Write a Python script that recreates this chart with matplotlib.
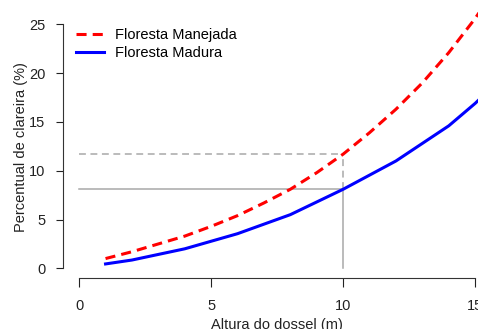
import numpy as np
import matplotlib.pyplot as plt

plt.rcParams['font.family'] = ['Liberation Sans', 'DejaVu Sans']

# Curves
x_manejada = [1, 2, 3, 4, 5, 6, 7, 8, 9, 10, 11, 12, 13, 14, 15, 16]
y_manejada = [1.0, 1.7, 2.5, 3.3, 4.3, 5.4, 6.7, 8.1, 9.8, 11.7, 13.9, 16.3, 19.0, 22.1, 25.6, 29.6]

x_madura = [1, 2, 4, 6, 8, 10, 12, 14, 15, 16]
y_madura = [0.45, 0.85, 2.0, 3.55, 5.5, 8.1, 11.0, 14.6, 16.9, 19.5]

# Reference height and the values read there
ref_x = 10
ref_manejada = 11.7
ref_madura = 8.1

x_ticks = [0, 5, 10, 15]
y_ticks = [0, 5, 10, 15, 20, 25]

W, H = 478, 329
fig = plt.figure(figsize=(W / 100, H / 100), dpi=100)

# axes box in pixels (R-style plot region, runs off the right edge)
left_px, right_px = 63.3, 491.0
bottom_px, top_px = 277.7, 4.8
ax = fig.add_axes([left_px / W, 1 - bottom_px / H,
                   (right_px - left_px) / W, (bottom_px - top_px) / H])
ax.set_xlim(-0.6, 15.6)
ax.set_ylim(-0.96, 27.0)

gray = '#A8A8A8'
ax.plot([0, ref_x], [ref_manejada, ref_manejada], color=gray, lw=1.1, dashes=(4.5, 3))
ax.plot([ref_x, ref_x], [ref_madura, ref_manejada], color=gray, lw=1.1, dashes=(4.5, 3))
ax.plot([0, ref_x], [ref_madura, ref_madura], color=gray, lw=1.1)
ax.plot([ref_x, ref_x], [0, ref_madura], color=gray, lw=1.1)

ax.plot(x_manejada, y_manejada, color='#FF0000', lw=2.2, dashes=(3.3, 2.0),
        label='Floresta Manejada')
ax.plot(x_madura, y_madura, color='#0000FF', lw=2.2, label='Floresta Madura')

for s in ['top', 'right']:
    ax.spines[s].set_visible(False)
ax.spines['left'].set_bounds(0, 25)
ax.spines['bottom'].set_bounds(0, 15)
for s in ['left', 'bottom']:
    ax.spines[s].set_color('#333333')
    ax.spines[s].set_linewidth(0.8)

ax.set_xticks(x_ticks)
ax.set_yticks(y_ticks)
ax.tick_params(axis='x', length=6.5, width=0.8, pad=9, labelsize=10.5, colors='#222222')
ax.tick_params(axis='y', length=5, width=0.8, pad=8, labelsize=10.5, colors='#222222')

ax.text(7.5, -5.1, 'Altura do dossel (m)', ha='center', va='top', fontsize=10.5, color='#222222')
fig.text(21 / W, 1 - 147 / H, 'Percentual de clareira (%)', rotation=90,
         ha='center', va='center', fontsize=10.5, color='#222222')

ax.legend(loc='upper left', bbox_to_anchor=(76 / W, 1 - 28 / H), bbox_transform=fig.transFigure,
          frameon=False, fontsize=10.5, handlelength=1.9, handletextpad=0.8,
          labelspacing=0.25, borderpad=0, borderaxespad=0)

fig.savefig('out.png', dpi=100)
